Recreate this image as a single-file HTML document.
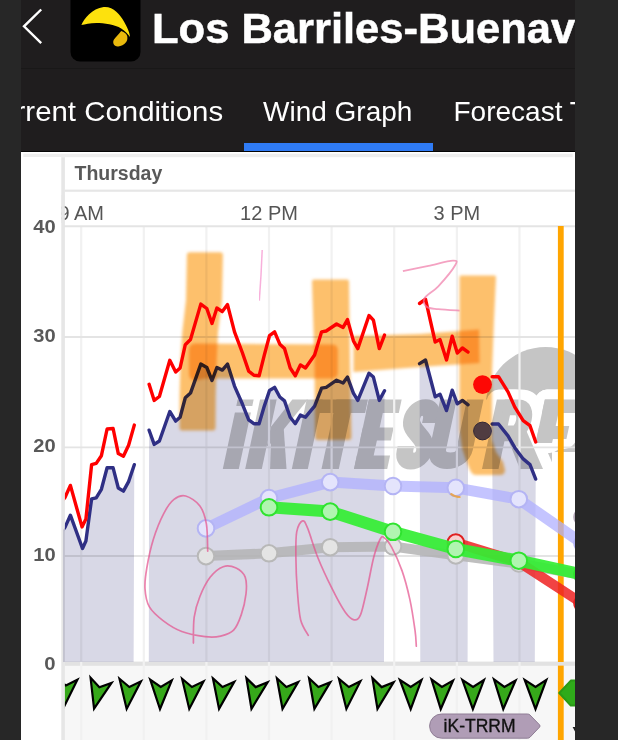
<!DOCTYPE html>
<html>
<head>
<meta charset="utf-8">
<title>Wind Graph</title>
<style>
html,body{margin:0;padding:0;}
body{width:618px;height:740px;overflow:hidden;background:#272727;font-family:"Liberation Sans",sans-serif;position:relative;}
#app{position:absolute;left:21px;top:0;width:554px;height:740px;overflow:hidden;background:#050505;}
#hdr{position:absolute;left:0;top:0;width:554px;height:68px;background:#1f1d1e;border-bottom:1px solid #191818;box-sizing:content-box;}
#tabs{position:absolute;left:0;top:69px;width:554px;height:82.3px;background:#1f1d1e;}
.tab{position:absolute;top:26.5px;color:#fff;font-size:28px;white-space:nowrap;transform-origin:0 0;line-height:32px;}
#ul{position:absolute;left:222.6px;top:74px;width:189px;height:8.3px;background:#2f7bf5;}
#title{position:absolute;left:131px;top:5px;-webkit-text-stroke:0.5px #fff;color:#fff;font-weight:bold;font-size:42px;white-space:nowrap;line-height:48px;transform-origin:0 0;transform:scaleX(1.036);}
#chart{position:absolute;left:0;top:152px;width:554px;height:588px;background:#fff;}
svg{position:absolute;left:0;top:0;}
</style>
</head>
<body>
<div id="app">
  <div id="hdr">
    <svg width="554" height="68" viewBox="21 0 554 68">
      <polyline points="41.2,9.5 24,26.3 41.2,43.2" fill="none" stroke="#fff" stroke-width="2.4"/>
      <rect x="70.5" y="-10" width="70" height="71.6" rx="9.5" fill="#000"/>
      <path d="M81.4,25 C84,19 92,8.5 103.7,7 C113,6.2 120,14 124.1,21.8 C127,27 130,33 129.9,37 C128.5,34.5 125,30.5 121.2,28.4 C115,24.6 104,23 96.4,23 C90,23.2 85,24.3 81.4,25 Z" fill="#fde10d"/>
      <path d="M121.2,30.9 C124.5,32 127,34 127.3,36.5 C127.6,39.5 127,41 126,42.3 C124,44.8 121,46.3 118.2,46.4 C116,46.5 114.2,45.8 113.6,44 C113,42.2 113.2,40.8 114,39.5 C115.5,37 118.5,34.5 121.2,30.9 Z" fill="#e9b90d"/>
    </svg>
    <div id="title">Los Barriles-Buenavista</div>
  </div>
  <div id="tabs">
    <div class="tab" id="t1" style="left:-43px;transform:scaleX(1.05);">Current Conditions</div>
    <div class="tab" id="t2" style="left:242px;">Wind Graph</div>
    <div class="tab" id="t3" style="left:432.5px;">Forecast Table</div>
    <div id="ul"></div>
  </div>
  <div id="chart">
  <svg id="g" width="554" height="588" viewBox="21 152 554 588">
<defs><clipPath id="cp"><rect x="64.9" y="152" width="510.5" height="588"/></clipPath><clipPath id="cc"><rect x="64.5" y="226" width="510.5" height="437"/></clipPath><filter id="bl" x="-10%" y="-10%" width="120%" height="120%"><feGaussianBlur stdDeviation="1.6"/></filter><filter id="bl2"><feGaussianBlur stdDeviation="0.5"/></filter></defs>
<rect x="23.3" y="153.7" width="549.4" height="3.5" fill="#eeeeee"/>
<rect x="64.5" y="664.5" width="510.5" height="76" fill="#f7f7f7"/>
<rect x="64.5" y="189.6" width="510.5" height="2.2" fill="#e6e6e6"/>
<rect x="64.5" y="661.6" width="510.5" height="4.2" fill="#e2e2e2"/>
<rect x="21" y="157.2" width="40.6" height="584" fill="#fff"/>
<rect x="61.3" y="157.2" width="3.6" height="584" fill="#e6e6e6"/>
<g clip-path="url(#cc)">
<circle cx="545.6" cy="407" r="60" fill="#c5c5c5"/>
<g transform="translate(0,468.9) skewX(-12.1)">
<g fill="#fff" stroke="#fff" stroke-width="20" stroke-linejoin="round"><polygon points="222.8,-56.5 238.8,-56.5 238.8,0.0 222.8,0.0"/><polygon points="222.8,-69.3 238.8,-69.3 238.8,-63.0 222.8,-63.0"/><polygon points="245.2,-69.3 261.8,-69.3 261.8,0.0 245.2,0.0"/><polygon points="261.8,-22.0 261.8,-42.0 277.5,-69.3 293.0,-69.3 269.5,-30.0"/><polygon points="264.0,-33.0 273.5,-46.0 286.5,0.0 270.0,0.0"/><polygon points="291.8,-69.3 307.8,-69.3 307.8,0.0 291.8,0.0"/><polygon points="304.8,-69.3 353.1,-69.3 353.1,-56.0 304.8,-56.0"/><polygon points="321.5,-69.3 338.8,-69.3 338.8,0.0 321.5,0.0"/><polygon points="354.0,-69.3 370.8,-69.3 370.8,0.0 354.0,0.0"/><polygon points="354.0,-69.3 386.8,-69.3 386.8,-56.0 354.0,-56.0"/><polygon points="354.0,-41.3 384.8,-41.3 384.8,-28.5 354.0,-28.5"/><polygon points="354.0,-13.4 387.2,-13.4 387.2,0.0 354.0,0.0"/><polygon points="482.0,-69.3 498.5,-69.3 498.5,0.0 482.0,0.0"/><polygon points="499.0,-34.0 517.0,-40.0 543.0,0.0 520.0,0.0"/><polygon points="530.0,-69.3 546.5,-69.3 546.5,-26.0 530.0,-26.0"/><polygon points="530.0,-69.3 563.0,-69.3 563.0,-56.0 530.0,-56.0"/><polygon points="530.0,-43.0 560.0,-43.0 560.0,-30.0 530.0,-30.0"/></g>
<path d="M420.5,-46 L420.5,-50 C420.5,-65.3 401,-65.3 401,-50 C401,-37 420.5,-32 420.5,-19 C420.5,-4 401,-4 401,-19 L401,-23" fill="none" stroke-width="36.6" stroke="#fff"/>
<path d="M433.6,-69.3 L433.6,-19 C433.6,-4.6 460.4,-4.6 460.4,-19 L460.4,-69.3" fill="none" stroke-width="36.6" stroke="#fff"/>
<path d="M490,-61.5 L504,-61.5 C516.5,-61.5 516.5,-35.5 504,-35.5 L490,-35.5" fill="none" stroke-width="35.6" stroke="#fff"/>
<g fill="#c5c5c5"><polygon points="222.8,-56.5 238.8,-56.5 238.8,0.0 222.8,0.0"/><polygon points="222.8,-69.3 238.8,-69.3 238.8,-63.0 222.8,-63.0"/><polygon points="245.2,-69.3 261.8,-69.3 261.8,0.0 245.2,0.0"/><polygon points="261.8,-22.0 261.8,-42.0 277.5,-69.3 293.0,-69.3 269.5,-30.0"/><polygon points="264.0,-33.0 273.5,-46.0 286.5,0.0 270.0,0.0"/><polygon points="291.8,-69.3 307.8,-69.3 307.8,0.0 291.8,0.0"/><polygon points="304.8,-69.3 353.1,-69.3 353.1,-56.0 304.8,-56.0"/><polygon points="321.5,-69.3 338.8,-69.3 338.8,0.0 321.5,0.0"/><polygon points="354.0,-69.3 370.8,-69.3 370.8,0.0 354.0,0.0"/><polygon points="354.0,-69.3 386.8,-69.3 386.8,-56.0 354.0,-56.0"/><polygon points="354.0,-41.3 384.8,-41.3 384.8,-28.5 354.0,-28.5"/><polygon points="354.0,-13.4 387.2,-13.4 387.2,0.0 354.0,0.0"/><polygon points="482.0,-69.3 498.5,-69.3 498.5,0.0 482.0,0.0"/><polygon points="499.0,-34.0 517.0,-40.0 543.0,0.0 520.0,0.0"/><polygon points="530.0,-69.3 546.5,-69.3 546.5,-26.0 530.0,-26.0"/><polygon points="530.0,-69.3 563.0,-69.3 563.0,-56.0 530.0,-56.0"/><polygon points="530.0,-43.0 560.0,-43.0 560.0,-30.0 530.0,-30.0"/></g>
<path d="M420.5,-46 L420.5,-50 C420.5,-65.3 401,-65.3 401,-50 C401,-37 420.5,-32 420.5,-19 C420.5,-4 401,-4 401,-19 L401,-23" fill="none" stroke-width="16.6" stroke="#c5c5c5"/>
<path d="M433.6,-69.3 L433.6,-19 C433.6,-4.6 460.4,-4.6 460.4,-19 L460.4,-69.3" fill="none" stroke-width="16.6" stroke="#c5c5c5"/>
<path d="M490,-61.5 L504,-61.5 C516.5,-61.5 516.5,-35.5 504,-35.5 L490,-35.5" fill="none" stroke-width="15.6" stroke="#c5c5c5"/>
</g>
<polygon points="552,452 576,452 576,482 552,482" fill="#fff"/>
</g>
<g stroke="#f1f1f1" stroke-width="2.2">
<line x1="81.2" y1="226" x2="81.2" y2="740"/>
<line x1="143.8" y1="226" x2="143.8" y2="740"/>
<line x1="206.4" y1="226" x2="206.4" y2="740"/>
<line x1="269.0" y1="226" x2="269.0" y2="740"/>
<line x1="331.6" y1="226" x2="331.6" y2="740"/>
<line x1="394.2" y1="226" x2="394.2" y2="740"/>
<line x1="456.9" y1="226" x2="456.9" y2="740"/>
<line x1="519.5" y1="226" x2="519.5" y2="740"/>
</g><g stroke="#e4e4e4" stroke-width="1.9">
<line x1="64" y1="226.3" x2="575" y2="226.3"/>
<line x1="64" y1="337" x2="575" y2="337"/>
<line x1="64" y1="447.4" x2="575" y2="447.4"/>
<line x1="64" y1="556" x2="575" y2="556"/>
</g>
<g fill="#d8d8e6" style="mix-blend-mode:multiply">
<polygon points="63.0,662 63.0,530.0 65.2,526.9 70.4,515.2 82.5,548.5 85.9,541.0 91.6,498.9 96.2,497.9 101.4,489.3 107.1,467.8 113.1,467.8 118.3,488.0 123.4,491.1 128.6,481.6 134.3,464.7 133.6,662"/>
<polygon points="148.8,662 149.1,430.2 154.2,444.4 159.4,441.0 169.8,411.5 175.7,421.1 180.1,417.2 185.3,397.8 190.5,393.1 200.8,364.1 206.8,367.5 212.0,380.5 216.9,367.5 222.3,370.1 227.5,364.1 234.5,386.1 242.3,403.8 248.7,419.8 253.9,423.7 259.1,423.7 264.3,406.1 269.5,390.5 274.6,387.4 279.8,397.0 284.5,400.9 290.2,417.2 295.3,423.7 300.4,415.1 305.5,417.2 314.6,406.1 321.6,388.2 326.2,387.4 336.6,380.2 343.1,383.0 347.5,377.1 353.4,393.1 357.8,400.4 369.0,373.2 373.4,377.1 379.3,400.4 384.5,390.8 384.0,662"/>
<polygon points="420.3,662 419.5,363.6 425.5,360.0 435.2,396.8 440.0,394.2 446.5,410.6 452.2,390.2 457.3,403.8 462.4,400.4 468.1,404.8 467.6,662"/>
<polygon points="493.5,662 492.1,424.0 498.5,424.0 508.0,435.9 514.8,447.7 523.2,458.9 530.0,464.6 535.7,479.1 534.8,662"/>
</g>
<rect x="557.9" y="226" width="5.8" height="436" fill="#ffa500"/><rect x="557.9" y="665.6" width="5.8" height="75" fill="#ffa500"/>
<g clip-path="url(#cp)">
<circle cx="582.5" cy="517" r="8.3" fill="#e6e0e8" stroke="#b4a8b8" stroke-width="2"/>
<polyline points="206.0,556.1 269.0,553.3 330.2,547.2 393.0,546.5 455.8,555.4 518.8,563.5 582.5,575.0" fill="none" stroke="#b4b4b4" stroke-width="10" stroke-linejoin="round" stroke-opacity="0.85"/>
<circle cx="206.0" cy="556.1" r="8.3" fill="#e4e4e4" stroke="#b8b8b8" stroke-width="2"/><circle cx="269.0" cy="553.3" r="8.3" fill="#e4e4e4" stroke="#b8b8b8" stroke-width="2"/><circle cx="330.2" cy="547.2" r="8.3" fill="#e4e4e4" stroke="#b8b8b8" stroke-width="2"/><circle cx="393.0" cy="546.5" r="8.3" fill="#e4e4e4" stroke="#b8b8b8" stroke-width="2"/><circle cx="455.8" cy="555.4" r="8.3" fill="#e4e4e4" stroke="#b8b8b8" stroke-width="2"/><circle cx="518.8" cy="563.5" r="8.3" fill="#e4e4e4" stroke="#b8b8b8" stroke-width="2"/><circle cx="582.5" cy="575.0" r="8.3" fill="#e4e4e4" stroke="#b8b8b8" stroke-width="2"/>
<polyline points="206.0,528.4 269.0,498.1 330.2,482.1 393.0,486.0 455.8,487.8 518.8,499.2 582.5,543.5" fill="none" stroke="#b0b0ff" stroke-width="11" stroke-linejoin="round" stroke-opacity="0.75"/>
<circle cx="206.0" cy="528.4" r="8.3" fill="#e4e4fc" stroke="#b4b4f4" stroke-width="2"/><circle cx="269.0" cy="498.1" r="8.3" fill="#e4e4fc" stroke="#b4b4f4" stroke-width="2"/><circle cx="330.2" cy="482.1" r="8.3" fill="#e4e4fc" stroke="#b4b4f4" stroke-width="2"/><circle cx="393.0" cy="486.0" r="8.3" fill="#e4e4fc" stroke="#b4b4f4" stroke-width="2"/><circle cx="455.8" cy="487.8" r="8.3" fill="#e4e4fc" stroke="#b4b4f4" stroke-width="2"/><circle cx="518.8" cy="499.2" r="8.3" fill="#e4e4fc" stroke="#b4b4f4" stroke-width="2"/><circle cx="582.5" cy="543.5" r="8.3" fill="#e4e4fc" stroke="#b4b4f4" stroke-width="2"/>
<polyline points="455.8,542.6 518.8,562.0 582.5,603.5" fill="none" stroke="#ee2222" stroke-width="10" stroke-linejoin="round" stroke-opacity="0.85"/>
<circle cx="455.8" cy="542.6" r="8.3" fill="#f8d0d0" stroke="#e02020" stroke-width="2"/><circle cx="582.5" cy="603.5" r="8.3" fill="#f8d0d0" stroke="#e02020" stroke-width="2"/>
<polyline points="269.0,507.3 330.2,511.6 393.0,531.8 455.8,549.0 518.8,560.7 582.5,574.5" fill="none" stroke="#33ee33" stroke-width="12" stroke-linejoin="round" stroke-opacity="0.92"/>
<circle cx="269.0" cy="507.3" r="8.3" fill="#b0f5b0" stroke="#2fe32f" stroke-width="2"/><circle cx="330.2" cy="511.6" r="8.3" fill="#b0f5b0" stroke="#2fe32f" stroke-width="2"/><circle cx="393.0" cy="531.8" r="8.3" fill="#b0f5b0" stroke="#2fe32f" stroke-width="2"/><circle cx="455.8" cy="549.0" r="8.3" fill="#b0f5b0" stroke="#2fe32f" stroke-width="2"/><circle cx="518.8" cy="560.7" r="8.3" fill="#b0f5b0" stroke="#2fe32f" stroke-width="2"/><circle cx="582.5" cy="574.5" r="8.3" fill="#b0f5b0" stroke="#2fe32f" stroke-width="2"/>
</g>
<g fill="none" stroke-width="3.4" stroke-linejoin="round" stroke-linecap="round" clip-path="url(#cp)">
<polyline points="63.0,530.0 65.2,526.9 70.4,515.2 82.5,548.5 85.9,541.0 91.6,498.9 96.2,497.9 101.4,489.3 107.1,467.8 113.1,467.8 118.3,488.0 123.4,491.1 128.6,481.6 134.3,464.7" stroke="#2f2f84"/>
<polyline points="149.1,430.2 154.2,444.4 159.4,441.0 169.8,411.5 175.7,421.1 180.1,417.2 185.3,397.8 190.5,393.1 200.8,364.1 206.8,367.5 212.0,380.5 216.9,367.5 222.3,370.1 227.5,364.1 234.5,386.1 242.3,403.8 248.7,419.8 253.9,423.7 259.1,423.7 264.3,406.1 269.5,390.5 274.6,387.4 279.8,397.0 284.5,400.9 290.2,417.2 295.3,423.7 300.4,415.1 305.5,417.2 314.6,406.1 321.6,388.2 326.2,387.4 336.6,380.2 343.1,383.0 347.5,377.1 353.4,393.1 357.8,400.4 369.0,373.2 373.4,377.1 379.3,400.4 384.5,390.8" stroke="#2f2f84"/>
<polyline points="419.5,363.6 425.5,360.0 435.2,396.8 440.0,394.2 446.5,410.6 452.2,390.2 457.3,403.8 462.4,400.4 468.1,404.8" stroke="#2f2f84"/>
<polyline points="492.1,424.0 498.5,424.0 508.0,435.9 514.8,447.7 523.2,458.9 530.0,464.6 535.7,479.1" stroke="#2f2f84"/>
<polyline points="63.0,500.0 65.2,497.1 70.4,485.4 82.0,526.9 85.9,519.1 91.6,464.7 96.2,463.4 101.4,455.7 107.1,429.0 113.1,428.5 118.3,453.6 123.4,456.2 128.6,445.3 134.3,425.1" stroke="#ff0000"/>
<polyline points="149.1,384.3 154.2,400.4 159.4,396.5 169.8,360.3 175.7,371.9 180.1,368.0 185.3,344.7 190.5,339.5 200.8,304.1 206.8,308.5 212.0,323.5 216.9,308.0 222.3,311.6 227.5,304.6 234.5,331.8 242.3,352.5 248.7,371.1 253.9,375.3 259.1,375.8 264.3,355.1 269.5,335.7 274.6,331.8 279.8,344.2 284.5,348.6 290.2,368.0 295.3,375.8 300.4,364.9 305.5,368.0 314.6,355.1 321.6,331.8 326.2,331.0 336.6,324.0 343.1,327.4 347.5,319.6 353.4,340.8 357.8,348.6 369.0,315.5 373.4,320.1 379.3,348.6 384.5,335.1" stroke="#ff0000"/>
<polyline points="419.5,303.5 425.5,299.2 435.2,342.0 440.0,339.5 446.5,360.0 452.2,336.2 457.3,353.1 462.4,348.0 468.1,352.1" stroke="#ff0000"/>
<polyline points="492.1,376.7 498.5,376.7 508.0,391.9 514.8,407.1 523.2,420.7 530.0,425.7 535.7,442.0" stroke="#ff0000"/>
</g>
<circle cx="482.5" cy="431" r="8.9" fill="#50509a" stroke="#33337a" stroke-width="1"/>
<circle cx="482.5" cy="384.6" r="9.4" fill="#ff0a0a"/>
<path style="mix-blend-mode:multiply" filter="url(#bl)" fill="#fdc06c" d="M190,252.3 L220,252.3 Q222.9,252.3 222.9,255 L222,300 L218,332 L216.7,360 L215.7,395 L215.5,427.5 Q215.5,430.6 212.5,430.6 L182.5,430.6 Q179.5,430.6 179.5,427.5 L179.6,395 L180.5,360 L182.3,332 L186,300 L186.9,255 Q186.9,252.3 190,252.3 Z"/>
<path style="mix-blend-mode:multiply" filter="url(#bl)" fill="#fdc06c" d="M195,343.5 L332,344.5 Q337.8,344.5 337.8,350 L337.8,373 Q337.8,378.4 332,378.4 L205,378.4 L195,380.5 Q189,380.5 189,373 L189,350 Q189,343.5 195,343.5 Z"/>
<path style="mix-blend-mode:multiply" filter="url(#bl)" fill="#fdc06c" d="M314,279.5 L347,279.5 Q349,279.5 349,281.5 L350,360 L351.4,437 Q351.4,440 348.5,440 L318,440 Q315,440 315,437 L314.5,360 L312,281.5 Q312,279.5 314,279.5 Z"/>
<path style="mix-blend-mode:multiply" filter="url(#bl)" fill="#fdc06c" d="M353.5,336 L420,334 L479,329.5 L479.5,363 L420,367 L353.5,372 Z"/>
<path style="mix-blend-mode:multiply" filter="url(#bl)" fill="#fdc06c" d="M461,275.5 L494.5,275.5 Q496,275.5 496,277 L494,320 L492,372 L492,440 L496,452 L503,462 L505,470 Q505,475 500,475 L476,475 Q472,475 470,470 L466,460 L462,448 L459.5,430 L459.5,277 Q459.5,275.5 461,275.5 Z"/>
<path d="M450.5,493.5 Q455,497.5 460.5,497" fill="none" stroke="#f0a030" stroke-width="2.2" stroke-opacity="0.8" filter="url(#bl2)"/>
<g fill="none" stroke="#e4508c" stroke-width="1.7" stroke-opacity="0.7" stroke-linecap="round" filter="url(#bl2)">
<path d="M207.7,551.2 C207.5,546.7 207.7,531.5 206.4,524.0 C205.1,516.5 203.4,510.6 199.9,505.9 C196.4,501.2 190.0,497.1 185.7,496.0 C181.4,494.9 177.7,496.4 174.0,499.4 C170.3,502.3 167.1,507.0 163.7,513.7 C160.2,520.4 156.1,530.5 153.3,539.5 C150.5,548.5 148.2,559.8 146.8,568.0 C145.4,576.2 144.6,582.2 145.0,588.7 C145.4,595.2 146.3,601.5 149.4,606.9 C152.5,612.3 158.3,617.0 163.7,621.1 C169.1,625.2 174.9,628.9 181.8,631.5 C188.7,634.1 198.6,635.8 205.1,636.6 C211.6,637.4 215.8,637.2 220.6,636.1 C225.3,635.0 230.1,633.8 233.6,630.2 C237.1,626.6 239.2,620.7 241.3,614.6 C243.4,608.5 245.3,600.1 246.0,593.9 C246.7,587.6 246.8,581.4 245.2,577.1 C243.5,572.8 239.8,569.7 236.1,568.0 C232.4,566.3 227.5,565.2 223.2,566.7 C218.9,568.2 214.2,572.1 210.3,577.1 C206.4,582.1 202.6,589.8 199.9,596.5 C197.2,603.2 195.3,609.4 194.2,617.2 C193.1,625.0 193.5,638.8 193.4,643.1"/>
<path d="M308.3,635.3 C307.0,632.7 302.5,627.6 300.6,619.8 C298.8,612.0 298.0,599.1 297.2,588.7 C296.4,578.4 296.0,567.2 295.9,557.7 C295.8,548.2 295.6,537.9 296.7,531.8 C297.8,525.7 300.6,521.5 302.4,520.9 C304.2,520.2 304.9,521.8 307.5,527.9 C310.1,534.0 313.8,547.6 317.9,557.7 C322.0,567.8 327.6,579.7 332.1,588.7 C336.6,597.8 341.4,606.8 345.1,612.0 C348.8,617.2 351.5,619.4 354.1,619.8 C356.7,620.2 358.4,619.8 360.6,614.6 C362.8,609.4 364.9,598.2 367.1,588.7 C369.3,579.2 371.5,565.9 373.6,557.7 C375.8,549.5 378.3,542.9 380.0,539.5 C381.7,536.1 381.9,536.2 383.9,537.5 C385.8,538.8 388.7,541.8 391.7,547.3 C394.7,552.8 399.0,562.0 402.0,570.6 C405.0,579.2 407.6,589.2 409.8,599.1 C412.0,609.0 413.9,622.4 415.0,630.2 C416.1,638.1 416.1,643.5 416.3,646.2"/>
</g>
<path d="M402.9,271.2 C407.2,270.3 420.2,267.6 428.5,265.9 C436.8,264.1 448.3,260.8 452.8,260.7 C457.3,260.6 457.7,260.7 455.3,265.0 C452.9,269.3 443.4,280.8 438.3,286.3 C433.2,291.8 426.6,294.6 424.7,298.0 C422.8,301.4 424.3,304.8 426.6,306.7 C428.9,308.6 432.8,308.5 438.3,309.2 C443.8,309.9 456.1,310.4 459.6,310.6" fill="none" stroke="#f07aa8" stroke-width="1.8" stroke-opacity="0.7" filter="url(#bl2)"/>
<path d="M262.2,250 L261,275 L259.3,300.6" fill="none" stroke="#f050b0" stroke-width="1.5" stroke-opacity="0.45" filter="url(#bl2)"/>
<g clip-path="url(#cp)" fill="#36a81a" stroke="#000" stroke-width="2.2" stroke-linejoin="miter">
<polygon points="-10.8,-14.8 0,-7.8 10.8,-14.8 0,14.3" transform="translate(65.1,693.3) rotate(6)"/>
<polygon points="-10.8,-14.8 0,-7.8 10.8,-14.8 0,14.3" transform="translate(97.5,694.75) rotate(13.9)"/>
<polygon points="-10.8,-14.8 0,-7.8 10.8,-14.8 0,14.3" transform="translate(128.4,694.75) rotate(7)"/>
<polygon points="-10.8,-14.8 0,-7.8 10.8,-14.8 0,14.3" transform="translate(160.5,694.75) rotate(2)"/>
<polygon points="-10.8,-14.8 0,-7.8 10.8,-14.8 0,14.3" transform="translate(191,694.75) rotate(7)"/>
<polygon points="-10.8,-14.8 0,-7.8 10.8,-14.8 0,14.3" transform="translate(221.3,694.75) rotate(9)"/>
<polygon points="-10.8,-14.8 0,-7.8 10.8,-14.8 0,14.3" transform="translate(254.2,694.75) rotate(11)"/>
<polygon points="-10.8,-14.8 0,-7.8 10.8,-14.8 0,14.3" transform="translate(285,694.75) rotate(10)"/>
<polygon points="-10.8,-14.8 0,-7.8 10.8,-14.8 0,14.3" transform="translate(317,694.75) rotate(10.5)"/>
<polygon points="-10.8,-14.8 0,-7.8 10.8,-14.8 0,14.3" transform="translate(348,694.75) rotate(6.5)"/>
<polygon points="-10.8,-14.8 0,-7.8 10.8,-14.8 0,14.3" transform="translate(380.2,694.75) rotate(11)"/>
<polygon points="-10.8,-14.8 0,-7.8 10.8,-14.8 0,14.3" transform="translate(410.7,694.75) rotate(0)"/>
<polygon points="-10.8,-14.8 0,-7.8 10.8,-14.8 0,14.3" transform="translate(441.5,694.75) rotate(3)"/>
<polygon points="-10.8,-14.8 0,-7.8 10.8,-14.8 0,14.3" transform="translate(473,694.75) rotate(0.5)"/>
<polygon points="-10.8,-14.8 0,-7.8 10.8,-14.8 0,14.3" transform="translate(504,694.75) rotate(3)"/>
<polygon points="-10.8,-14.8 0,-7.8 10.8,-14.8 0,14.3" transform="translate(535.5,694.75) rotate(0)"/>
<polygon points="559.3,693 570.8,680.6 590,680.6 597,693 590,705.6 570.8,705.6" fill="#2fab1a" stroke="#2a9a16" stroke-width="2" stroke-linejoin="round"/>
</g>
<path d="M572.6,727 L575.5,727 L575.5,732.5 Z" fill="#222"/>
<path d="M441.7,714 L527.5,714 Q529,714 530,715 L539.5,724.8 Q540.6,726 539.5,727.2 L530,737.2 Q529,738.2 527.5,738.2 L441.7,738.2 A12.1,12.1 0 0 1 441.7,714 Z" fill="#b09db6" stroke="#8f7d95" stroke-width="1"/>
<text x="443.6" y="732.3" font-family="Liberation Sans" font-size="18.2" fill="#111" stroke="#111" stroke-width="0.35" textLength="72" lengthAdjust="spacingAndGlyphs">iK-TRRM</text>
<g font-family="Liberation Sans" fill="#555">
<text x="74.5" y="180.3" font-weight="bold" font-size="19.5" fill="#595959" id="thu">Thursday</text>
<text x="81.2" y="219.8" font-size="20" text-anchor="middle" id="l9">9 AM</text>
<text x="269" y="219.8" font-size="20" text-anchor="middle" id="l12">12 PM</text>
<text x="456.9" y="219.8" font-size="20" text-anchor="middle" id="l3">3 PM</text>
<g font-weight="bold" font-size="18.8" fill="#595959">
<text x="33.2" y="233.1" textLength="22.4" lengthAdjust="spacingAndGlyphs">40</text>
<text x="33.2" y="341.9" textLength="22.4" lengthAdjust="spacingAndGlyphs">30</text>
<text x="33.2" y="452.1" textLength="22.4" lengthAdjust="spacingAndGlyphs">20</text>
<text x="33.2" y="560.9" textLength="22.4" lengthAdjust="spacingAndGlyphs">10</text>
<text x="44.3" y="669.5" textLength="11.3" lengthAdjust="spacingAndGlyphs">0</text>
</g></g>
<rect x="21" y="195" width="40.6" height="25" fill="#fff"/><rect x="61.2" y="195" width="3.6" height="28" fill="#e6e6e6"/>
  </svg>
  </div>
</div>
</body>
</html>
